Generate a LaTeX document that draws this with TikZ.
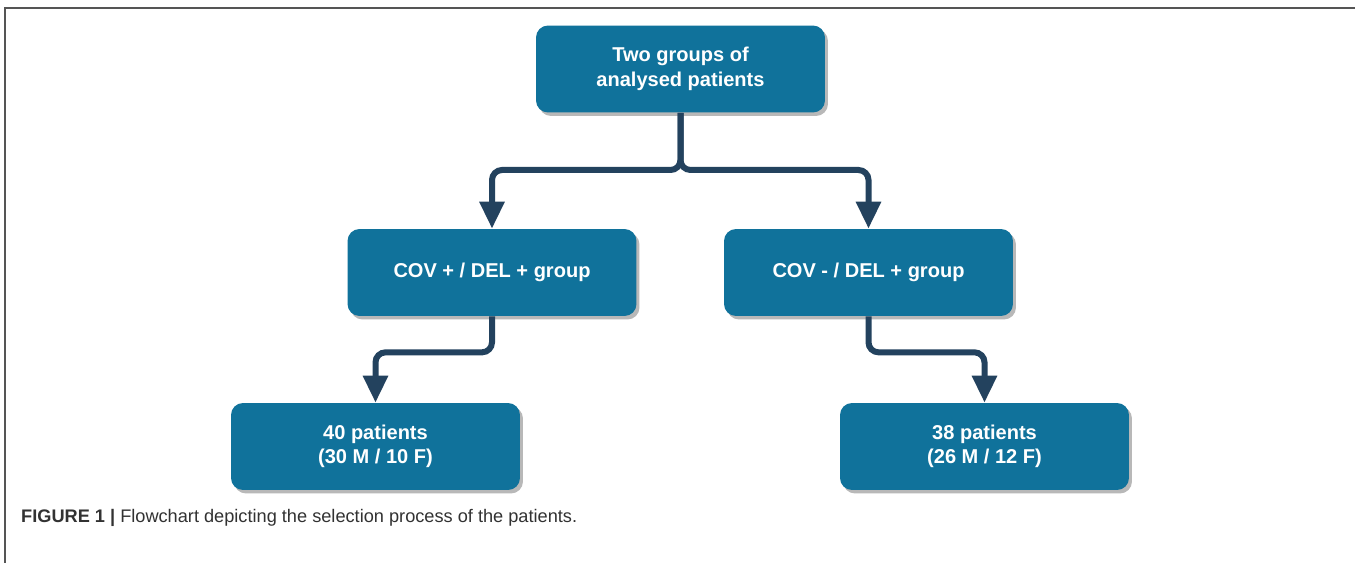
\documentclass[tikz,border=0pt]{standalone}
\usepackage{fontspec}
\setmainfont{Liberation Sans}
\usepackage{tikz}
\usepackage{xcolor}
\usetikzlibrary{positioning,arrows.meta,shadows}

\definecolor{boxblue}{RGB}{16,114,155}
\definecolor{linenavy}{RGB}{35,66,94}
\definecolor{framegray}{RGB}{85,85,85}
\definecolor{captext}{RGB}{50,50,50}

\tikzset{
  box/.style={rounded corners=0.24cm, fill=boxblue, text=white, align=center,
    minimum width=5.78cm, minimum height=1.74cm, inner sep=0pt,
    font=\fontsize{11.4}{14}\selectfont\bfseries,
    drop shadow={shadow xshift=0.06cm, shadow yshift=-0.07cm, fill=black!28, opacity=1}},
  arr/.style={draw=linenavy, line width=0.12cm, rounded corners=0.2cm,
    -{Triangle[width=0.48cm, length=0.54cm]}}
}

\begin{document}
\begin{tikzpicture}[x=0.02cm, y=-0.02cm]
            \useasboundingbox (0,0) rectangle (1355,563);
            \fill[white] (0,0) rectangle (1355,563);
            \draw[framegray, line width=0.03cm] (5,563) -- (5,8) -- (1355,8);

            \node[box] (groups) at (680.5,69) {Two groups of\\analysed patients};
            \node[box] (covpos) at (492,272.5) {COV + / DEL + group};
            \node[box] (covneg) at (868.5,272.5) {COV - / DEL + group};
            \node[box] (patl) at (375.5,446.5) {40 patients\\(30 M / 10 F)};
            \node[box] (patr) at (984.5,446.5) {38 patients\\(26 M / 12 F)};

            \coordinate (split) at (680.5,170);
            \draw[arr] (groups.south) -- (split) -| (covpos.north);
            \draw[arr] (groups.south) -- (split) -| (covneg.north);
            \draw[arr] (covpos.south) -- ++(0,36) -| (patl.north);
            \draw[arr] (covneg.south) -- ++(0,36) -| (patr.north);

            \node[anchor=west, text=captext, font=\fontsize{10.35}{12}\selectfont] (caption) at (15,518)
              {\textbf{FIGURE 1 |} Flowchart depicting the selection process of the patients.};
        \end{tikzpicture}
\end{document}
